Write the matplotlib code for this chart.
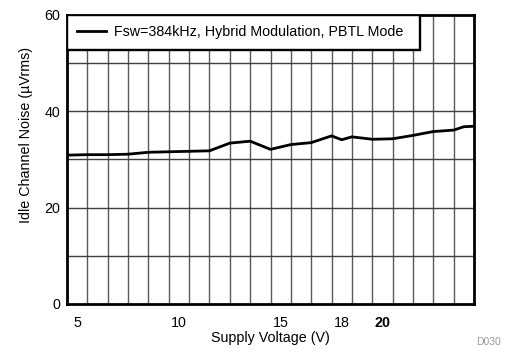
import numpy as np
import matplotlib
matplotlib.use("Agg")
import matplotlib.pyplot as plt

plt.rcParams['font.family'] = ['Liberation Sans', 'DejaVu Sans']

# idle channel noise vs supply voltage
supply_v = [4.5, 5.5, 6.5, 7.5, 8.5, 9.5, 10.5, 11.5, 12.5, 13.5, 14.5, 15.5,
            16.5, 17.5, 18.0, 18.5, 19.5, 20.5, 21.5, 22.5, 23.5, 24.0, 24.5]
noise_uv = [30.9, 31.0, 31.0, 31.1, 31.5, 31.6, 31.7, 31.8, 33.4, 33.8, 32.1, 33.1,
            33.5, 34.9, 34.1, 34.7, 34.2, 34.3, 35.0, 35.8, 36.1, 36.8, 36.9]
series_label = "Fsw=384kHz, Hybrid Modulation, PBTL Mode"

x_ticks = [5, 10, 15, 18, 20]
y_ticks = [0, 20, 40, 60]

fig = plt.figure(figsize=(5.1, 3.52), dpi=100)
ax = fig.add_axes([0.1314, 0.1364, 0.9294 - 0.1314, 0.9574 - 0.1364])

ax.plot(supply_v, noise_uv, color='black', lw=2, label=series_label, zorder=3)

ax.set_xlim(4.5, 24.5)
ax.set_ylim(0, 60)

# grid sits between the labelled voltages
for gx in np.arange(5.5, 24.5, 1.0):
    ax.axvline(gx, color='0.35', lw=1, zorder=1)
for gy in range(10, 60, 10):
    ax.axhline(gy, color='0.25', lw=1, zorder=1)

ax.set_xticks(x_ticks)
ax.set_xticklabels([str(t) for t in x_ticks])
ax.set_yticks(y_ticks)
ax.tick_params(axis='both', length=0, labelsize=10.3)
ax.tick_params(axis='x', pad=8.5)
ax.tick_params(axis='y', pad=5)
for lbl in ax.get_xticklabels():
    if lbl.get_text() == '20':
        lbl.set_fontweight('bold')

for sp in ax.spines.values():
    sp.set_linewidth(2)
    sp.set_zorder(4)

ax.set_xlabel("Supply Voltage (V)", fontsize=10.3, labelpad=1)
ax.set_ylabel("Idle Channel Noise (\u00b5Vrms)", fontsize=10.3)
ax.yaxis.set_label_coords(-0.083, 0.585)

leg = ax.legend(loc='upper left', bbox_to_anchor=(0, 0, 0.865, 1), mode='expand',
                borderaxespad=0, fancybox=False, framealpha=1, edgecolor='black',
                fontsize=10.3, handlelength=2.0, handletextpad=0.6, borderpad=0.7,
                shadow={'color': 'black', 'alpha': 1, 'ox': 0.8, 'oy': -0.8})
leg.get_frame().set_linewidth(1.0)
leg.set_zorder(5)

fig.text(0.934, 0.02, "D030", fontsize=7.5, color='0.6')

fig.savefig("out.png", dpi=100)
